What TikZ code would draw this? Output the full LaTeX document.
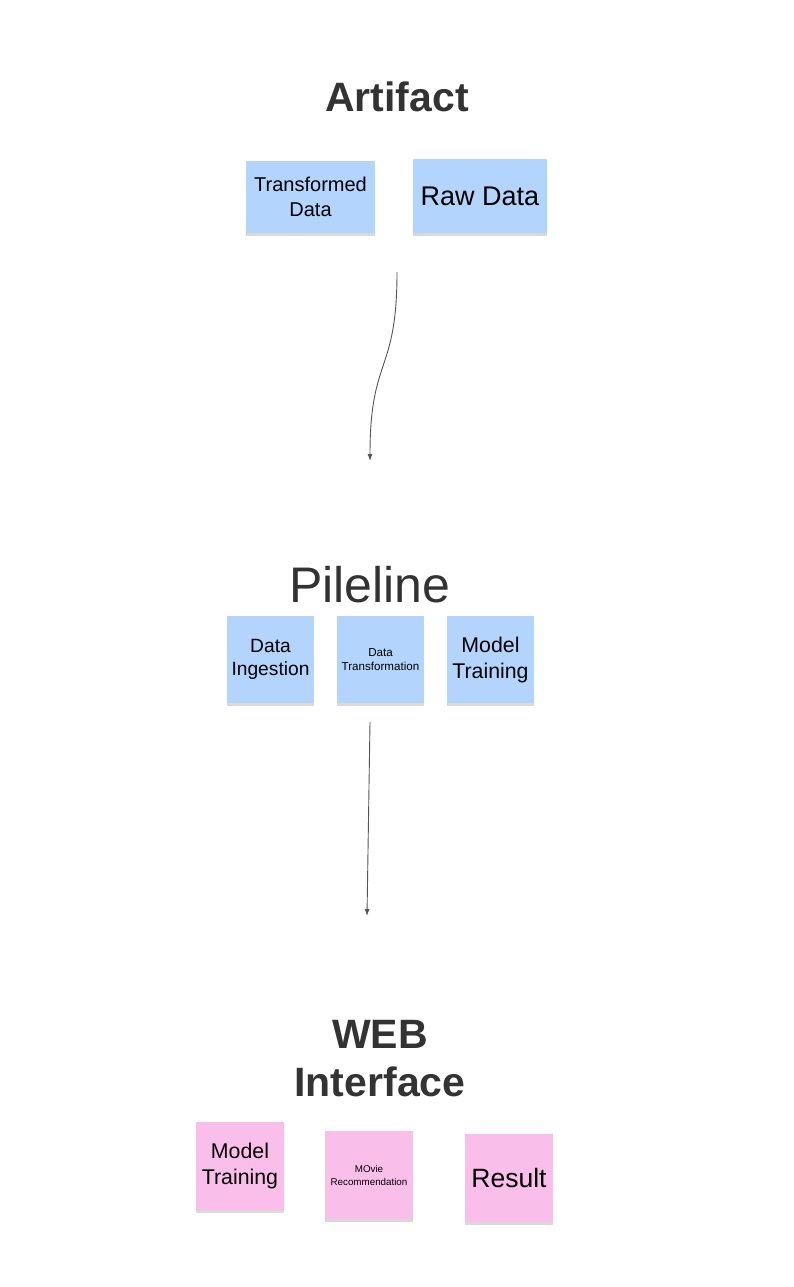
\documentclass[tikz,border=0pt]{standalone}
\usepackage{fontspec}
\setmainfont{Liberation Sans}
\usetikzlibrary{arrows.meta,shadows}
\definecolor{noteblue}{RGB}{179,212,252}
\definecolor{notepink}{RGB}{250,190,235}
\definecolor{titlegray}{RGB}{51,51,51}
\definecolor{arrowgray}{RGB}{85,85,85}

\begin{document}
\begin{tikzpicture}[x=1pt, y=-1pt]
 \useasboundingbox (0,0) rectangle (794,1287);
 \tikzset{note/.style={inner sep=0pt, align=center, text=black,
     drop shadow={shadow xshift=0pt, shadow yshift=-3pt, opacity=.25, fill=black!60}},
   heading/.style={text=titlegray, align=center}}
 % titles
 \node (artifact) [heading, font=\fontsize{41}{48}\selectfont\bfseries] at (397,97) {Artifact};
 \node (pipeline) [heading, font=\fontsize{50}{58}\selectfont] at (370,585) {Pileline};
 \node (web) [heading, font=\fontsize{41}{48}\selectfont\bfseries] at (380,1059) {WEB\\Interface};
 % artifact notes
 \begin{scope}[every node/.style={note, fill=noteblue}]
   \node (trans) [minimum width=129, minimum height=72, font=\fontsize{20}{25}\selectfont] at (310.5,197) {Transformed\\Data};
   \node (raw) [minimum width=134, minimum height=74, font=\fontsize{27}{32}\selectfont] at (480,196) {Raw Data};
   \node (ingest) [minimum width=87, minimum height=87, font=\fontsize{19.2}{23}\selectfont] at (270.5,659.5) {Data\\Ingestion};
   \node (dtrans) [minimum width=87, minimum height=87, font=\fontsize{11.6}{14}\selectfont] at (380.5,659.5) {Data\\Transformation};
   \node (train) [minimum width=87, minimum height=87, font=\fontsize{21.3}{26}\selectfont] at (490.5,659.5) {Model\\Training};
 \end{scope}
 % web notes
 \begin{scope}[every node/.style={note, fill=notepink, minimum width=88, minimum height=88}]
   \node (wtrain) [font=\fontsize{21.3}{26}\selectfont] at (240,1166) {Model\\Training};
   \node (movie) [font=\fontsize{9.8}{13}\selectfont] at (369,1175) {MOvie\\Recommendation};
   \node (result) [font=\fontsize{26.5}{32}\selectfont] at (509,1178) {Result};
 \end{scope}
 % arrows
 \coordinate (a1s) at (397,272);
 \coordinate (a1e) at (370,461);
 \coordinate (a2s) at (370,722);
 \coordinate (a2e) at (367,916);
 \draw [arrowgray, line width=.9pt, -{Latex[length=7pt, width=5pt]}] (a1s) .. controls (397,375) and (370,355) .. (a1e);
 \draw [arrowgray, line width=.9pt, -{Latex[length=7pt, width=5pt]}] (a2s) -- (a2e);
\end{tikzpicture}
\end{document}
